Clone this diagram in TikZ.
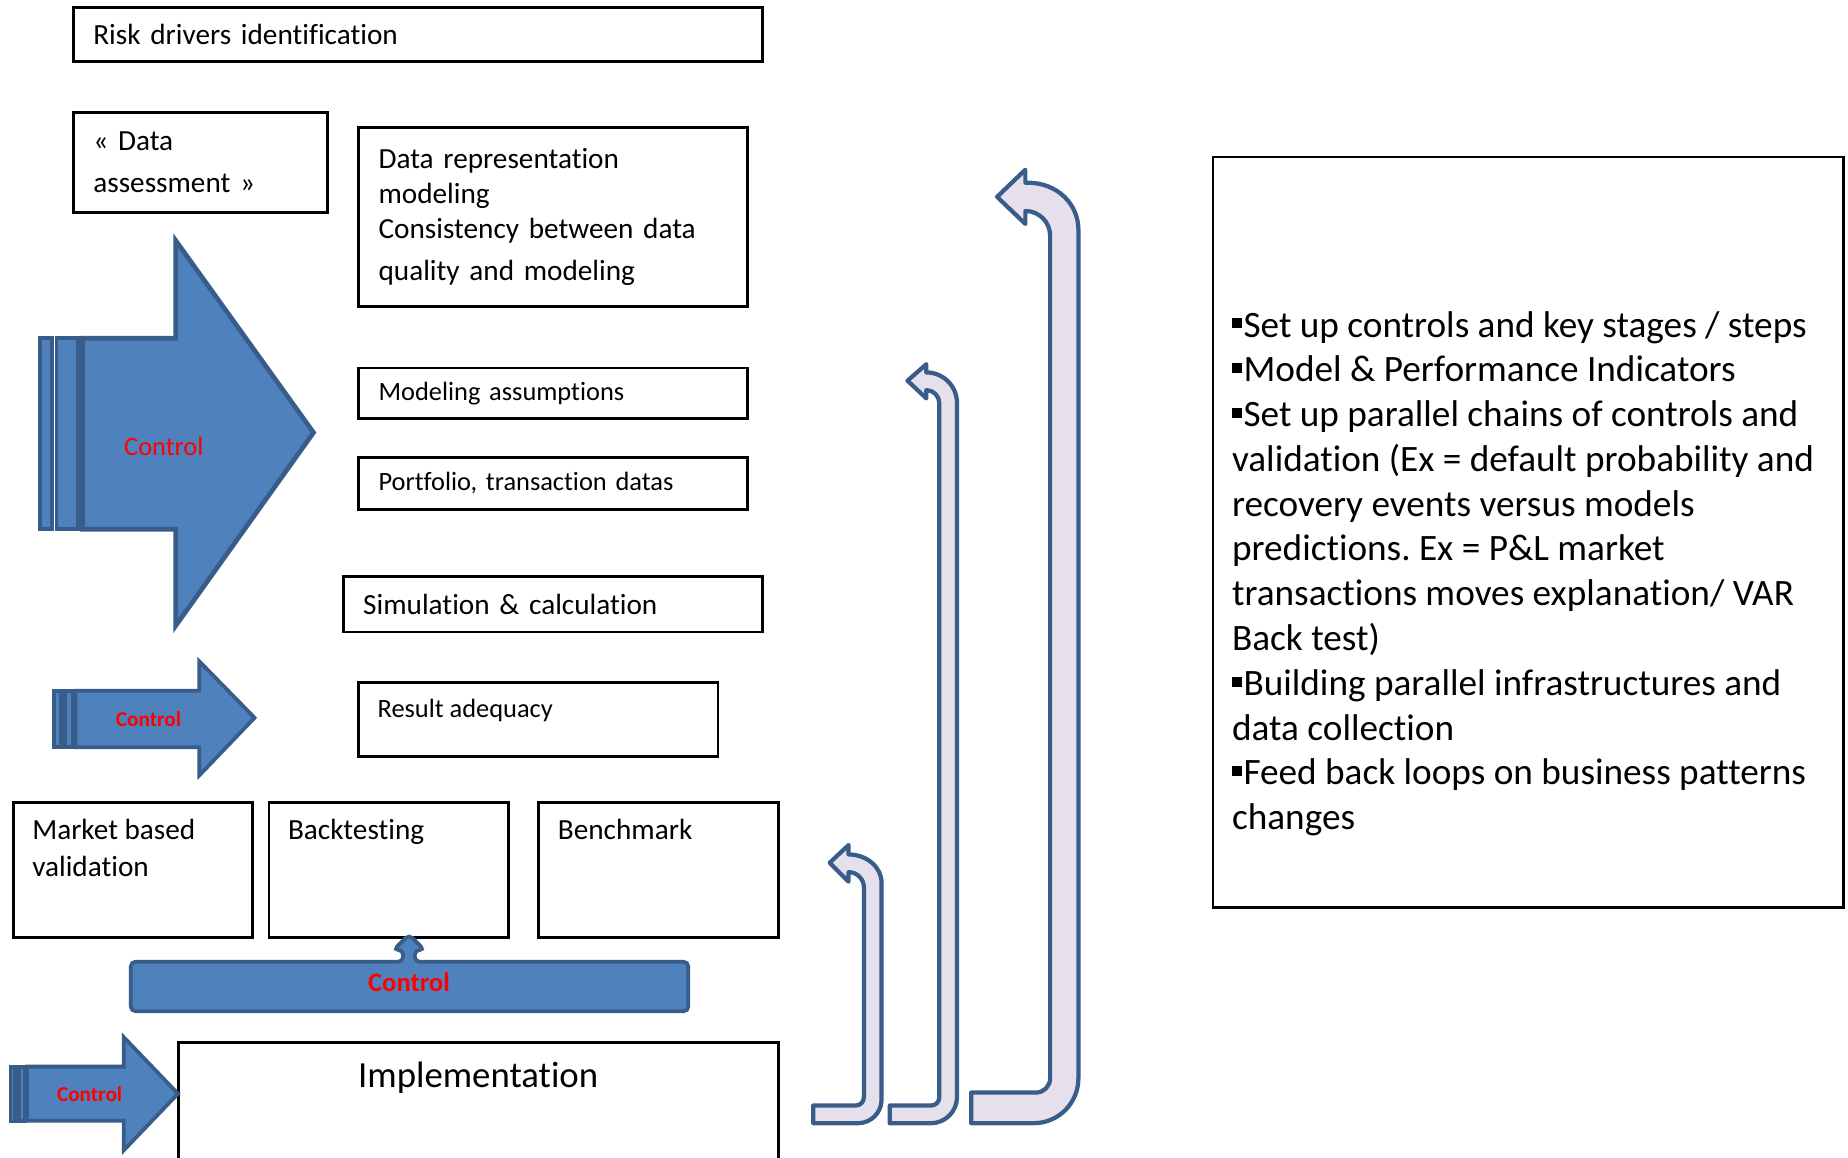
\documentclass[tikz,border=0pt]{standalone}
\usepackage{fontspec}
\setmainfont{Carlito}[Ligatures=NoCommon]

\definecolor{couleurbackfleche}{HTML}{4F81BD}
\definecolor{couleurbordfleche}{HTML}{385D8A}
\definecolor{couleurbackretour}{HTML}{E6E0EC}
\definecolor{couleurtextctrl}{HTML}{FF0000}
\definecolor{couleurtext}{HTML}{000000}
\newcommand{\puce}{\rule[0.23em]{0.27em}{0.27em}\kern0.6pt}
\newcommand{\bandeau}[4]{\draw[fleche] (#1,#2) rectangle (#3,#4);}
\tikzset{
	basic/.style={draw=couleurtext, line width=1.2pt, anchor=north west, inner xsep=8.5pt, inner ysep=0pt, align=left, text=couleurtext},
	petit/.style={font=\fontsize{11.2}{13.4}\selectfont},
	texthaut/.style={anchor=north west, inner sep=0pt, xshift=8.5pt, align=left, text=couleurtext, font=\fontsize{12.4}{15.5}\selectfont},
	haut/.style 2 args={label={[texthaut, yshift=#1]north west:{#2}}},
	fleche/.style={fill=couleurbackfleche, draw=couleurbordfleche, line width=1.6pt},
	retour/.style={fill=couleurbackretour, draw=couleurbordfleche, line width=1.8pt, line join=round},
	controle/.style={text=couleurtextctrl, font=\bfseries\fontsize{9}{10}\selectfont, inner sep=0pt}
}
\frenchspacing

\begin{document}
\begin{tikzpicture}[x=0.5pt, y=-0.5pt]
	\fontsize{12.4}{14.8} \selectfont
	\useasboundingbox (0,0) rectangle (1568,982);
	% fleches retour
	\draw[retour] (690,953) -- (728,953) .. controls (739,953) and (748,944) .. (748,933) -- (748,749) .. controls (748,735.8) and (735.5,725) .. (720,725) -- (720,717) -- (704,732) -- (720,748) -- (720,740) .. controls (727.2,740) and (733,745.8) .. (733,753) -- (733,931) .. controls (733,934.9) and (729.9,938) .. (726,938) -- (690,938) -- cycle;
	\draw[retour] (755,953) -- (790,953) .. controls (802,953) and (812,943) .. (812,931) -- (812,342) .. controls (812,327.6) and (800.4,316) .. (786,316) -- (786,309) -- (770,323) -- (786,338) -- (786,331) .. controls (792,331) and (797,336) .. (797,342) -- (797,931) .. controls (797,934.9) and (793.9,938) .. (790,938) -- (755,938) -- cycle;
	\draw[retour] (824,953) -- (877,953) .. controls (898,953) and (915,936) .. (915,915) -- (915,195) .. controls (915,173) and (897,155) .. (872,155) -- (870,155) -- (870,144) -- (846,167) -- (870,190) -- (870,179) .. controls (881.6,179) and (891,188.4) .. (891,200) -- (891,915) .. controls (891,921.6) and (885.6,927) .. (879,927) -- (824,927) -- cycle;
	
	% boites
	\node[basic, text width=275.5pt, minimum height=23pt] (riskdriv) at (61,5) {Risk drivers identification};
	\node[basic, text width=91pt, minimum height=42.5pt] (dataasse) at (61,94) {«~Data\\[3.2pt]assessment~»};
	\node[basic, text width=148pt, minimum height=76pt] (datarepr) at (303,107) {Data representation\\modeling\\Consistency between data\\[3.2pt]quality and modeling\\[-3pt]};
	\node[basic, petit, text width=148pt, minimum height=21.5pt] (modlassu) at (303,311) {Modeling assumptions};
	\node[basic, petit, text width=148pt, minimum height=22pt] (portdata) at (303,387) {Portfolio, transaction datas};
	\node[basic, text width=161pt, minimum height=23.5pt] (simucalc) at (290,488) {Simulation \& calculation};
	\node[basic, text width=135.5pt, minimum height=31.5pt, haut={-7.4pt}{\fontsize{11.2}{13.4}\selectfont Result adequacy}] (resuadeq) at (303,578) {};
	% validation
	\node[basic, text width=84.5pt, minimum height=57pt, haut={-7.5pt}{Market based\\validation}] (markvali) at (10,680) {};
	\node[basic, text width=84.5pt, minimum height=57pt, haut={-7.5pt}{Backtesting}] (backtest) at (227,680) {};
	\node[basic, text width=84.5pt, minimum height=57pt, haut={-7.5pt}{Benchmark}] (benchmrk) at (456,680) {};
	\node[basic, text width=237.5pt, minimum height=70pt, label={[anchor=north, inner sep=0pt, yshift=-9pt, font=\fontsize{15.6}{19}\selectfont]north:Implementation}] (implemnt) at (150,883) {};
	% notes
	\node[basic, text width=250.5pt, minimum height=318.5pt, label={[texthaut, yshift=-65.8pt, font=\fontsize{15.8}{19}\selectfont]north west:{\puce Set up controls and key stages / steps\\
		\puce Model \& Performance Indicators\\
		\puce Set up parallel chains of controls and\\
		validation (Ex = default probability and\\
		recovery events versus models\\
		predictions. Ex = P\&L market\\
		transactions moves explanation/ VAR\\
		Back test)\\
		\puce Building parallel infrastructures and\\
		data collection\\
		\puce Feed back loops on business patterns\\
		changes}}] (notesbox) at (1028,132) {};
	
	% fleches de controle
	\bandeau{34}{287}{44}{449}
	\bandeau{48}{287}{66}{449}
	\draw[fleche, line width=2pt] (70,287) -- (149,287) -- (149,204) -- (266,367) -- (149,531) -- (149,449) -- (70,449) -- cycle;
	\node[controle, font=\fontsize{11.2}{13}\selectfont] (ctrlgros) at (139,379) {Control};
	
	\bandeau{46}{586}{52}{634}
	\bandeau{55}{586}{62}{634}
	\draw[fleche] (64,586) -- (169,586) -- (169,561) -- (216,609) -- (169,658) -- (169,634) -- (64,634) -- cycle;
	\node[controle] (ctrlmoye) at (126,610) {Control};
	
	\draw[fleche, rounded corners=2pt] (111,816) -- (342,816) -- (342,806) -- (334,806) -- (347,793) -- (360,806) -- (352,806) -- (352,816) -- (584,816) -- (584,858) -- (111,858) -- cycle;
	\node[controle, font=\bfseries\fontsize{11.3}{13}\selectfont] (ctrlbarr) at (347,833) {Control};
	
	\bandeau{9}{905}{13}{951}
	\bandeau{16}{905}{21}{951}
	\draw[fleche] (23,905) -- (105,905) -- (105,880) -- (151,928) -- (105,976) -- (105,951) -- (23,951) -- cycle;
	\node[controle] (ctrlbass) at (76,928) {Control};
\end{tikzpicture}
\end{document}
